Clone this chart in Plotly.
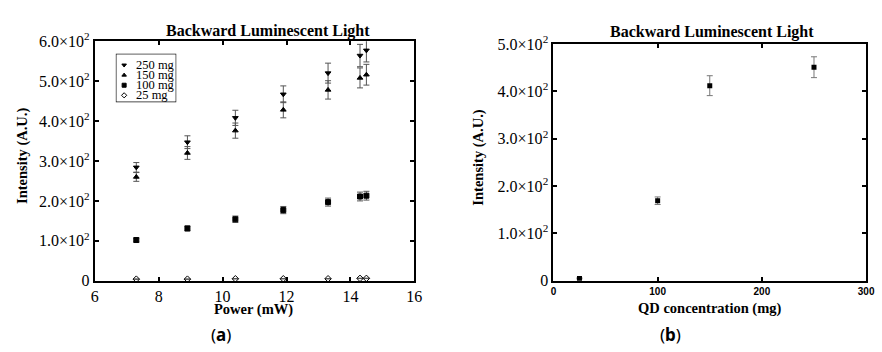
import plotly.graph_objects as go

W, H = 882, 352

# ---- data: panel (a) intensity vs pump power ----
power_mw = [7.3, 8.9, 10.4, 11.9, 13.3, 14.3, 14.5]
i_250 = [284, 347, 408, 467, 520, 564, 577]
e_250 = [12, 16, 19, 21, 25, 28, 29]
i_150 = [260, 320, 376, 428, 478, 508, 516]
e_150 = [11, 16, 19, 20, 23, 25, 26]
i_100 = [102, 131, 154, 177, 197, 211, 213]
e_100 = [5, 6, 8, 9, 10, 11, 11]
i_25 = [4, 4, 5, 5, 5, 6, 6]
e_25 = [0.5, 0.5, 0.5, 0.5, 0.5, 0.5, 0.5]

# ---- data: panel (b) intensity vs QD concentration ----
conc_mg = [25, 100, 150, 250]
i_conc = [5, 169, 412, 451]
e_conc = [1, 8, 21, 22]

# ---- tick labels ----
a_yvals = [0, 100, 200, 300, 400, 500, 600]
a_ytext = ["0", "1.0×10<sup>2</sup>", "2.0×10<sup>2</sup>", "3.0×10<sup>2</sup>",
           "4.0×10<sup>2</sup>", "5.0×10<sup>2</sup>", "6.0×10<sup>2</sup>"]
b_yvals = [0, 100, 200, 300, 400, 500]
b_ytext = ["0", "1.0×10<sup>2</sup>", "2.0×10<sup>2</sup>", "3.0×10<sup>2</sup>",
           "4.0×10<sup>2</sup>", "5.0×10<sup>2</sup>"]
a_xvals = [6, 8, 10, 12, 14, 16]
b_xvals = [0, 100, 200, 300]

legend_labels = ["250 mg", "150 mg", "100 mg", "25 mg"]
legend_symbols = ["triangle-down", "triangle-up", "square", "diamond-open"]

SERIF = "'Liberation Serif', 'Times New Roman', 'DejaVu Serif', serif"
SANS = "'Liberation Sans', Arial, sans-serif"


def px_x(p):
    return p / W


def px_y(p):
    return 1 - p / H


fig = go.Figure()

series_a = [(i_250, e_250), (i_150, e_150), (i_100, e_100), (i_25, e_25)]
for (vals, errs), sym, name in zip(series_a, legend_symbols, legend_labels):
    fig.add_trace(go.Scatter(
        x=power_mw, y=vals, mode="markers", name=name, showlegend=False,
        marker=dict(symbol=sym, size=5, color="black",
                    line=dict(color="black", width=1)),
        error_y=dict(type="data", array=errs, color="#555555",
                     thickness=1, width=3),
        xaxis="x", yaxis="y", cliponaxis=False,
    ))

fig.add_trace(go.Scatter(
    x=conc_mg, y=i_conc, mode="markers", showlegend=False,
    marker=dict(symbol="square", size=5, color="black"),
    error_y=dict(type="data", array=e_conc, color="#777777",
                 thickness=1, width=3),
    xaxis="x2", yaxis="y2",
))

# legend key drawn in its own small axis
fig.add_trace(go.Scatter(
    x=[0.13] * len(legend_labels), y=list(range(len(legend_labels))),
    mode="markers", showlegend=False, hoverinfo="skip",
    marker=dict(symbol=legend_symbols, size=4, color="black",
                line=dict(color="black", width=1)),
    xaxis="x3", yaxis="y3",
))

frame = dict(showline=True, linecolor="black", linewidth=2, mirror="ticks",
             ticks="inside", ticklen=4, tickwidth=1.5, tickcolor="black",
             showgrid=False, zeroline=False)
serif_ticks = dict(family=SERIF, size=16, color="black")

ax_a = (px_x(92), px_x(416))
ax_b = (px_x(557), px_x(874))
ay = (px_y(286), px_y(32))
ay_b = (px_y(286), px_y(35))
leg_x = (px_x(114), px_x(174))
leg_y = (px_y(96), px_y(46))

fig.update_layout(
    width=W, height=H,
    margin=dict(l=0, r=0, t=0, b=0),
    paper_bgcolor="white", plot_bgcolor="white",
    font=dict(family=SERIF),
    xaxis=dict(domain=list(ax_a), range=[6, 16], tickvals=a_xvals,
               tickfont=serif_ticks, anchor="y", **frame),
    yaxis=dict(domain=list(ay), range=[0, 600], tickvals=a_yvals,
               ticktext=a_ytext, tickfont=serif_ticks, anchor="x", **frame),
    xaxis2=dict(domain=list(ax_b), range=[0, 300], tickvals=b_xvals,
                tickfont=dict(family=SANS, size=10, color="black",
                              weight="bold"),
                anchor="y2", **frame),
    yaxis2=dict(domain=list(ay_b), range=[0, 500], tickvals=b_yvals,
                ticktext=b_ytext, tickfont=serif_ticks, anchor="x2", **frame),
    xaxis3=dict(domain=list(leg_x), range=[0, 1], visible=False,
                fixedrange=True, anchor="y3"),
    yaxis3=dict(domain=list(leg_y), range=[3.617, -1.056], visible=False,
                fixedrange=True, anchor="x3"),
    shapes=[dict(type="rect", xref="paper", yref="paper",
                 x0=leg_x[0], x1=leg_x[1], y0=leg_y[0], y1=leg_y[1],
                 line=dict(color="black", width=1.2), fillcolor="white",
                 layer="below")],
)

annotations = []
for k, lab in enumerate(legend_labels):
    annotations.append(dict(x=0.3, y=k, xref="x3", yref="y3", text=lab,
                            showarrow=False, xanchor="left", yanchor="middle",
                            font=dict(family=SERIF, size=12.5, color="black")))

title_font = dict(family=SERIF, size=16, color="black", weight="bold")
label_font = dict(family=SERIF, size=14.5, color="black", weight="bold")
caption_font = dict(family="'Noto Sans', sans-serif", size=17, color="black")


def text_at(x, y, txt, font, angle=0):
    annotations.append(dict(x=px_x(x), y=px_y(y), xref="paper", yref="paper",
                            text=txt, showarrow=False, xanchor="center",
                            yanchor="middle", font=font, textangle=angle))


text_at(268, 21, "Backward Luminescent Light", title_font)
text_at(718, 22, "Backward Luminescent Light", title_font)
text_at(253, 316, "Power (mW)", label_font)
text_at(716, 315, "QD concentration (mg)", label_font)
text_at(19, 154, "Intensity (A.U.)", label_font, angle=-90)
text_at(481, 155, "Intensity (A.U.)", label_font, angle=-90)
text_at(220, 343, "(<b>a</b>)", caption_font)
text_at(676, 343, "(<b>b</b>)", caption_font)

fig.update_layout(annotations=annotations)

fig.write_html("out.html")
